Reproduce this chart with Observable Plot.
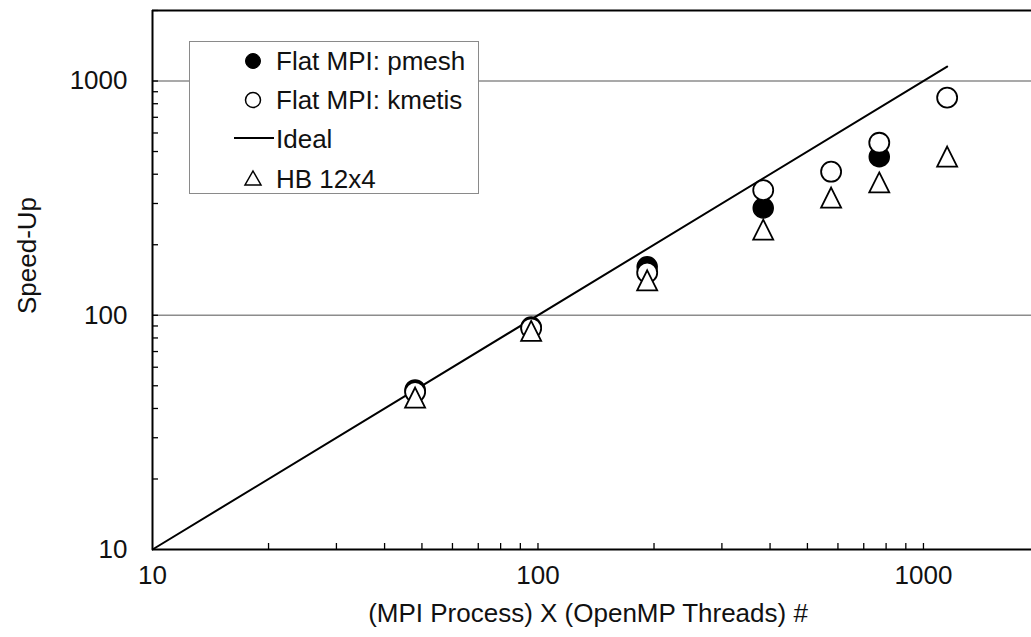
<!DOCTYPE html>
<html>
<head>
<meta charset="utf-8">
<script src="https://cdn.jsdelivr.net/npm/d3@7"></script>
<script src="https://cdn.jsdelivr.net/npm/@observablehq/plot@0.6"></script>
<style>
  html, body { margin: 0; padding: 0; background: white; overflow: hidden; }
  #wrap { position: relative; width: 1031px; height: 637px; font-family: "Liberation Sans", Arial, Helvetica, sans-serif; }
  #legend { position: absolute; left: 189px; top: 41px; width: 290px; height: 153px; border: 1.5px solid #8a8a8a; background: white; box-sizing: border-box; }
  .row { position: absolute; left: 0; height: 30px; font-size: 26px; line-height: 30px; color: #111; }
  .row svg { position: absolute; left: 44px; top: 0; }
  .row span { position: absolute; left: 86px; top: 0; white-space: nowrap; }
</style>
</head>
<body>
<div id="wrap"></div>
<script>
// ---- data ----
const threads = [48, 96, 192, 384, 576, 768, 1152];
const pmesh   = [48, 89, 161, 287, null, 475, null];
const kmetis  = [47, 88, 152, 342, 410, 545, 849];
const hb12x4  = [44.5, 85.7, 141, 232, 318, 369, 476];
const idealX  = [10, 1152];
const idealY  = [10, 1152];
const xTickLabels = [10, 100, 1000];
const yTickLabels = [10, 100, 1000];
const gridY = [100, 1000];
const xMinorTicks = [20,30,40,50,60,70,80,90,100,200,300,400,500,600,700,800,900,1000];
const yMinorTicks = [20,30,40,50,60,70,80,90,100,200,300,400,500,600,700,800,900,1000,2000];
const seriesNames = ["Flat MPI: pmesh", "Flat MPI: kmetis", "Ideal", "HB 12x4"];
const xTitle = "(MPI Process) X (OpenMP Threads) #";
const yTitle = "Speed-Up";

const rows = (ys) => threads.map((t, i) => ({x: t, y: ys[i]})).filter(d => d.y != null);
const ideal = idealX.map((x, i) => ({x, y: idealY[i]}));

// triangle centred on its bounding box (as in the source chart)
const triBox = {
  draw(context, size) {
    const r = Math.sqrt(size / Math.PI);
    context.moveTo(0, -r);
    context.lineTo(r, r);
    context.lineTo(-r, r);
    context.closePath();
  }
};

const W = 1031, H = 637, ML = 152, MT = 10, MB = 88, MR = 0;
const frameW = W - ML - MR, frameH = H - MT - MB;
const font = "Liberation Sans, Arial, Helvetica, sans-serif";

const chart = Plot.plot({
  width: W, height: H,
  marginLeft: ML, marginRight: MR, marginTop: MT, marginBottom: MB,
  style: {fontFamily: font, background: "white", overflow: "hidden"},
  x: {type: "log", domain: [10, 2000], range: [152, 1039], axis: null},
  y: {type: "log", domain: [10, 2000], axis: null},
  marks: [
    Plot.ruleY(gridY, {y: d => d, stroke: "#8c8c8c", strokeWidth: 1.6}),
    Plot.tickX(xMinorTicks, {x: d => d, insetTop: frameH - 6, stroke: "black", strokeWidth: 1.3}),
    Plot.tickY(yMinorTicks, {y: d => d, insetRight: frameW - 6, stroke: "black", strokeWidth: 1.3}),
    Plot.ruleY([2000], {y: d => d, stroke: "black", strokeWidth: 2}),
    Plot.ruleY([10], {y: d => d, stroke: "black", strokeWidth: 2}),
    Plot.ruleX([10], {x: d => d, stroke: "black", strokeWidth: 2}),
    Plot.line(ideal, {x: "x", y: "y", stroke: "black", strokeWidth: 2}),
    Plot.dot(rows(pmesh), {x: "x", y: "y", r: 10, fill: "black", stroke: "black", strokeWidth: 1.5}),
    Plot.dot(rows(kmetis), {x: "x", y: "y", r: 10, fill: "white", stroke: "black", strokeWidth: 1.8}),
    Plot.dot(rows(hb12x4), {x: "x", y: "y", r: 10, symbol: triBox, fill: "white", stroke: "black", strokeWidth: 1.8}),
    Plot.text(xTickLabels, {x: d => d, frameAnchor: "bottom", dy: 34, text: d => String(d), fontSize: 26, fill: "#111"}),
    Plot.text(yTickLabels, {y: d => d, frameAnchor: "left", dx: -25, textAnchor: "end", text: d => String(d), fontSize: 26, fill: "#111"}),
    Plot.text([xTitle], {frameAnchor: "bottom", dx: -4, dy: 72, text: d => d, fontSize: 26, fill: "#111"}),
    Plot.text([yTitle], {frameAnchor: "left", dx: -125, dy: 34, rotate: -90, text: d => d, fontSize: 26, fill: "#111"})
  ]
});

const wrap = document.getElementById("wrap");
wrap.appendChild(chart);

// ---- legend ----
const legend = document.createElement("div");
legend.id = "legend";
const rowTops = [4, 43, 82, 122];
const symbols = [
  '<svg width="40" height="30"><circle cx="19" cy="15" r="7.5" fill="black" stroke="black" stroke-width="1"/></svg>',
  '<svg width="40" height="30"><circle cx="19" cy="15" r="7.5" fill="white" stroke="black" stroke-width="1.5"/></svg>',
  '<svg width="40" height="30"><line x1="-1" x2="40" y1="14" y2="14" stroke="black" stroke-width="2"/></svg>',
  '<svg width="40" height="30"><path d="M19,7 L27,21 L11,21 Z" fill="white" stroke="black" stroke-width="1.5"/></svg>'
];
seriesNames.forEach((name, i) => {
  const r = document.createElement("div");
  r.className = "row";
  r.style.top = rowTops[i] + "px";
  r.innerHTML = symbols[i] + "<span></span>";
  r.querySelector("span").textContent = name;
  legend.appendChild(r);
});
wrap.appendChild(legend);
</script>
</body>
</html>
